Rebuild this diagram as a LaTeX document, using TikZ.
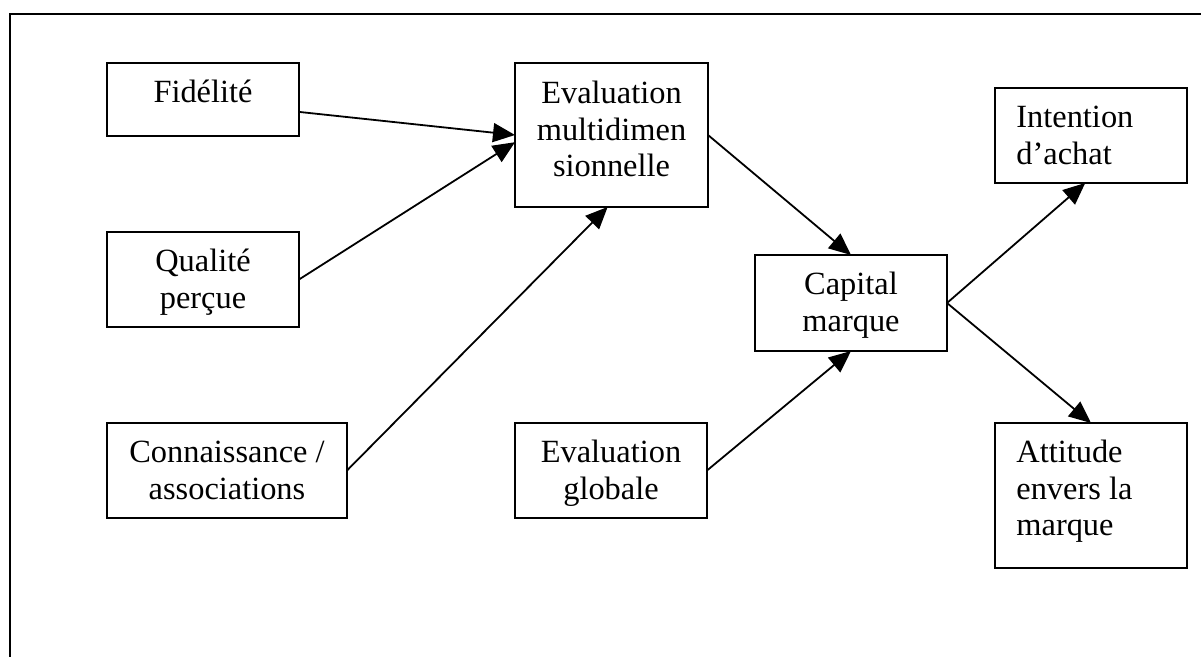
\documentclass[tikz,border=0pt]{standalone}
\usepackage{fontspec}
\setmainfont{Liberation Serif}
\usetikzlibrary{arrows.meta,calc}
% text blocks whose baseline is the baseline of their first line
\newcommand\ctext[1]{\begin{tabular}[t]{@{}c@{}}#1\end{tabular}}
\newcommand\ltext[1]{\begin{tabular}[t]{@{}l@{}}#1\end{tabular}}
\begin{document}
\begin{tikzpicture}[x=0.5pt,y=-0.5pt,
  box/.style={draw, line width=1pt, rectangle, inner sep=0pt, outer sep=0pt},
  label/.style={inner sep=0pt, font=\fontsize{16.2}{18.25}\selectfont},
  arr/.style={line width=0.9pt, -{Triangle[length=11pt,width=9.5pt]}},
  frame/.style={line width=1.2pt}]
\useasboundingbox (0,0) rectangle (1201,657);
% outer frame
\draw[frame] (10,657) -- (10,14) -- (1201,14);

% boxes
\node[box, minimum width=96pt,   minimum height=36.5pt] (fid)  at (203,99.5)   {};
\node[box, minimum width=96pt,   minimum height=47.5pt] (qual) at (203,279.5)  {};
\node[box, minimum width=120pt,  minimum height=47.5pt] (conn) at (227,470.5)  {};
\node[box, minimum width=96.5pt, minimum height=72pt]   (evm)  at (611.5,135)  {};
\node[box, minimum width=96pt,   minimum height=47.5pt] (glob) at (611,470.5)  {};
\node[box, minimum width=96pt,   minimum height=48pt]   (cap)  at (851,303)    {};
\node[box, minimum width=96pt,   minimum height=47.5pt] (int)  at (1091,135.5) {};
\node[box, minimum width=96pt,   minimum height=72.5pt] (att)  at (1091,495.5) {};

% texts
\node[label, anchor=base] (fidT)  at (203,103)   {\ctext{Fidélité}};
\node[label, anchor=base] (qualT) at (203,272)   {\ctext{Qualité\\perçue}};
\node[label, anchor=base] (connT) at (227,463)   {\ctext{Connaissance /\\associations}};
\node[label, anchor=base] (evmT)  at (611.5,104) {\ctext{Evaluation\\multidimen\\sionnelle}};
\node[label, anchor=base] (globT) at (611,463)   {\ctext{Evaluation\\globale}};
\node[label, anchor=base] (capT)  at (851,295)   {\ctext{Capital\\marque}};
\node[label, anchor=base west] (intT) at (1016,128) {\ltext{Intention\\d’achat}};
\node[label, anchor=base west] (attT) at (1016,463) {\ltext{Attitude\\envers la\\marque}};

% connectors
\draw[arr] ($(fid.north east)!0.67!(fid.south east)$) -- (evm.west);
\draw[arr] (qual.east) -- ($(evm.north west)!0.55!(evm.south west)$);
\draw[arr] (conn.east) -- ($(evm.south west)!0.48!(evm.south east)$);
\draw[arr] (evm.east) -- (cap.north);
\draw[arr] (glob.east) -- (cap.south);
\draw[arr] (cap.east) -- ($(int.south west)!0.47!(int.south east)$);
\draw[arr] (cap.east) -- (att.north);
\end{tikzpicture}
\end{document}
